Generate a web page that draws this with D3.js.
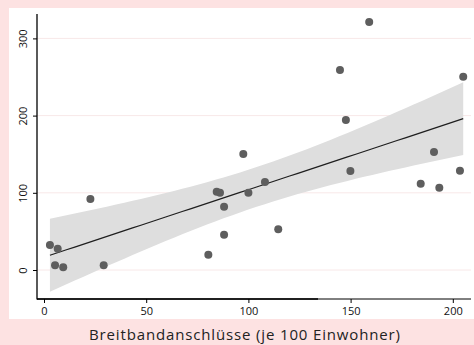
<!DOCTYPE html>
<html><head><meta charset="utf-8">
<script src="https://cdn.jsdelivr.net/npm/d3@7"></script>
<style>body{margin:0;background:#fde2e2;}svg{display:block;}</style>
</head><body>
<svg id="chart" width="474" height="345"></svg>
<script>
const breitband = [2.9,6.7,5.4,9.4,22.7,29.2,80.4,84.5,86.1,88.1,88.1,97.5,100,108.1,114.6,144.8,147.7,149.9,159.1,184.3,190.8,193.4,203.5,205.1];
const wert      = [32.4,27.6,6.1,3.5,92,6.1,19.8,101.4,100.1,82,45.7,150.3,100.1,114,52.7,259,194.3,128.2,321.2,111.8,152.8,106.6,128.6,250.4];
const xTicks = [0,50,100,150,200];
const yTicks = [0,100,200,300];
const xTitle = "Breitbandanschlüsse (je 100 Einwohner)";

const svg = d3.select("#chart");
const x = d3.scaleLinear().domain([0,200]).range([44,452.8]);
const y = d3.scaleLinear().domain([0,300]).range([270,38.4]);

// white panel
svg.append("rect").attr("x",9).attr("y",8).attr("width",465).attr("height",311).attr("fill","#ffffff");

// gridlines
svg.append("g").selectAll("line").data(yTicks).join("line")
  .attr("x1",37).attr("x2",471).attr("y1",d=>y(d)).attr("y2",d=>y(d))
  .attr("stroke","#f8e8e8").attr("stroke-width",1);

// regression + CI
const n = breitband.length;
const mx = d3.mean(breitband), my = d3.mean(wert);
let sxx=0, sxy=0;
for(let i=0;i<n;i++){sxx+=(breitband[i]-mx)**2; sxy+=(breitband[i]-mx)*(wert[i]-my);}
const b = sxy/sxx, a = my-b*mx;
let sse=0; for(let i=0;i<n;i++){sse+=(wert[i]-a-b*breitband[i])**2;}
const s = Math.sqrt(sse/(n-2));
const tCrit = 2.074;
const xmin = d3.min(breitband), xmax = d3.max(breitband);
const grid = d3.range(0,51).map(i=>xmin+(xmax-xmin)*i/50);
const band = grid.map(xv=>{const f=a+b*xv; const se=s*Math.sqrt(1/n+(xv-mx)**2/sxx); return {x:xv,lo:f-tCrit*se,hi:f+tCrit*se,f};});

svg.append("path").datum(band)
  .attr("d",d3.area().x(d=>x(d.x)).y0(d=>y(d.lo)).y1(d=>y(d.hi)))
  .attr("fill","#dedede");
svg.append("path").datum(band)
  .attr("d",d3.line().x(d=>x(d.x)).y(d=>y(d.f)))
  .attr("fill","none").attr("stroke","#1e1e1e").attr("stroke-width",1.2);

// points
svg.append("g").selectAll("circle").data(breitband).join("circle")
  .attr("cx",d=>x(d)).attr("cy",(d,i)=>y(wert[i])).attr("r",4)
  .attr("fill","#5e5e5e");

// axes
const font = "'Open Sans', sans-serif";
const gy = svg.append("g").attr("transform","translate(37,0)")
  .call(d3.axisLeft(y).tickValues(yTicks).tickSize(4).tickFormat(d3.format("d")));
gy.select(".domain").remove();
gy.selectAll(".tick line").attr("stroke","#000");
gy.selectAll(".tick text").attr("x",null).attr("dy",null)
  .attr("transform","translate(-10,0) rotate(-90)").attr("text-anchor","middle")
  .attr("font-family",font).attr("font-size",11).attr("fill","#111");
svg.append("line").attr("x1",37).attr("x2",37).attr("y1",14).attr("y2",299.5).attr("stroke","#000").attr("stroke-width",1.3);

const gx = svg.append("g").attr("transform","translate(0,299)")
  .call(d3.axisBottom(x).tickValues(xTicks).tickSize(4).tickFormat(d3.format("d")));
gx.select(".domain").remove();
gx.selectAll(".tick line").attr("stroke","#000");
gx.selectAll(".tick text").attr("y",8).attr("dy","0.71em")
  .attr("font-family",font).attr("font-size",11).attr("fill","#111");
svg.append("line").attr("x1",37).attr("x2",471).attr("y1",299).attr("y2",299).attr("stroke","#000").attr("stroke-width",1);
svg.append("line").attr("x1",37).attr("x2",318).attr("y1",299).attr("y2",299).attr("stroke","#000").attr("stroke-width",1.6);

svg.append("text").attr("x",244.5).attr("y",340).attr("text-anchor","middle")
  .attr("font-family",font).attr("font-size",15).attr("fill","#222")
  .attr("textLength",311).attr("lengthAdjust","spacing").text(xTitle);
</script>
</body></html>
